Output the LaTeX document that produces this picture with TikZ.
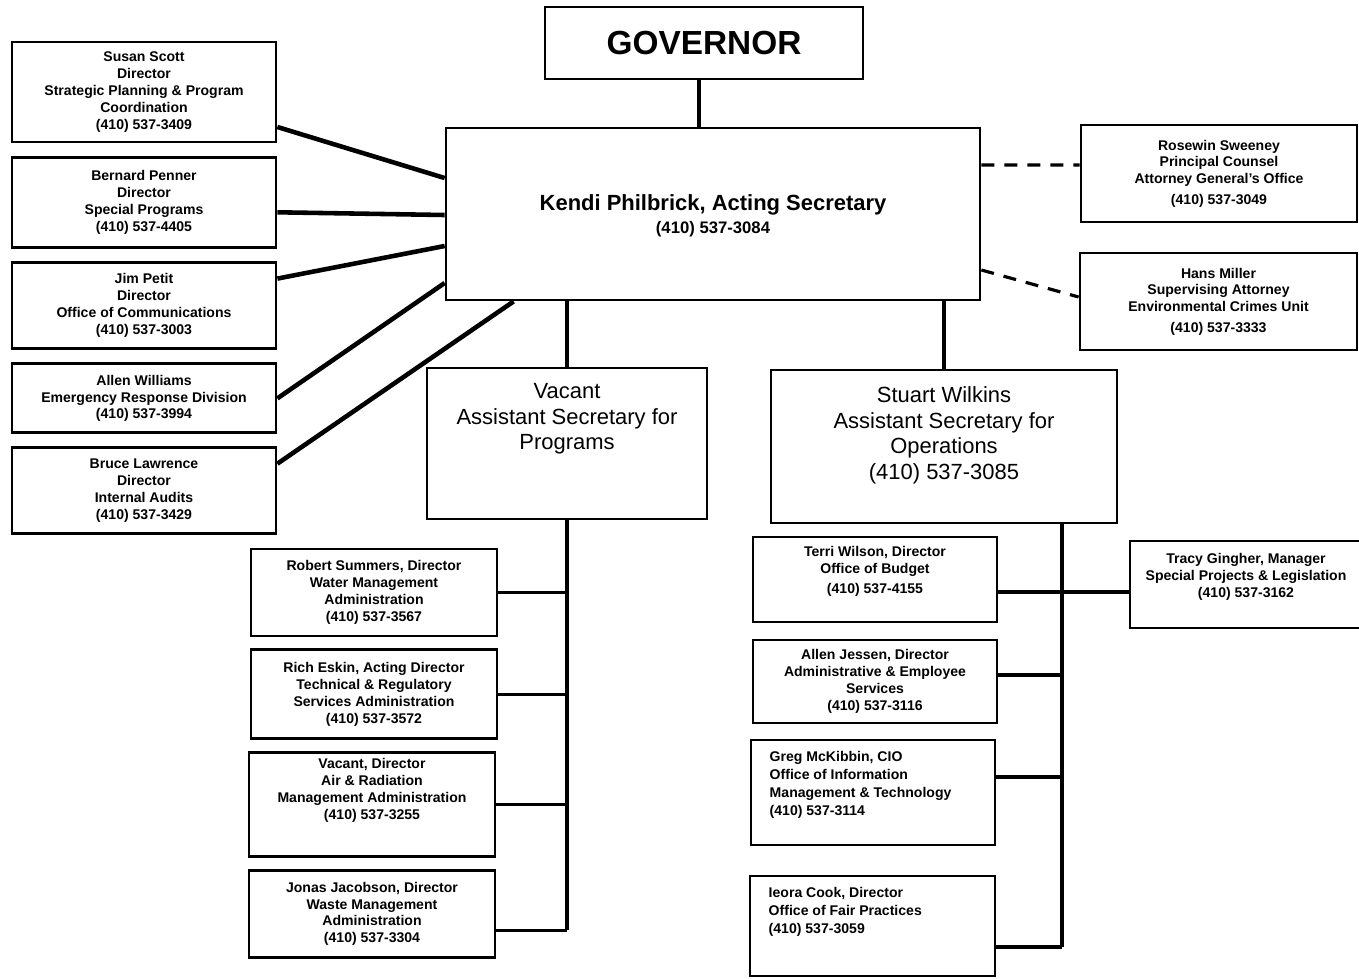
\documentclass[tikz,border=0pt]{standalone}
\usepackage{fontspec}
\setmainfont{Liberation Sans}
\usetikzlibrary{positioning}
\tikzset{
    unit/.style={rectangle, draw=black, line width=1.6pt, fill=white, align=center, minimum width=5.28cm, inner sep=2pt, font=\fontsize{8}{9.6}\selectfont\bfseries},
    asst/.style={rectangle, draw=black, line width=1.6pt, fill=white, font=\fontsize{12.5}{14.5}\selectfont},
    label/.style={align=center, inner sep=1pt, font=\fontsize{12.5}{14.5}\selectfont},
    note/.style={align=left, inner sep=1pt, font=\fontsize{8}{10.2}\selectfont\bfseries},
    link/.style={line width=1.8pt},
    spoke/.style={line width=2.6pt},
    dotlink/.style={line width=1.8pt, dash pattern=on 0.26cm off 0.2cm}
}

\begin{document}
\begin{tikzpicture}[x=0.02cm, y=-0.02cm]
    \useasboundingbox (0,0) rectangle (1359,978);

    % top of the chart
    \node (gov) [asst, minimum width=6.36cm, minimum height=1.44cm, font=\fontsize{19}{22}\selectfont\bfseries] at (704,43) {GOVERNOR};
    \node (sec) [asst, minimum width=10.68cm, minimum height=3.44cm] at (713,214) {};
    \node (sectext) [label, font=\fontsize{12.5}{13}\selectfont\bfseries] at ([yshift=-0.04cm]sec.center)
        {Kendi Philbrick, Acting Secretary\\{\fontsize{9.5}{10}\selectfont (410) 537-3084}};

    % staff offices on the left
    \node (susan) [unit, minimum height=2.0cm] at (144,92) {Susan Scott\\Director\\Strategic Planning \& Program\\Coordination\\(410) 537-3409};
    \node (bernard) [unit, minimum height=1.8cm, below=0.25cm of susan] {Bernard Penner\\Director\\Special Programs\\(410) 537-4405};
    \node (jim) [unit, minimum height=1.72cm, below=0.25cm of bernard] {Jim Petit\\Director\\Office of Communications\\(410) 537-3003};
    \node (allen) [unit, minimum height=1.38cm, below=0.25cm of jim] {Allen Williams\\Emergency Response Division\\(410) 537-3994};
    \node (bruce) [unit, minimum height=1.72cm, below=0.24cm of allen] {Bruce Lawrence\\Director\\Internal Audits\\(410) 537-3429};

    % counsel on the right
    \node (rosewin) [unit, minimum width=5.52cm, minimum height=1.94cm] at (1219,173.5) {Rosewin Sweeney\\Principal Counsel\\Attorney General's Office\\[2pt](410) 537-3049};
    \node (hans) [unit, minimum width=5.54cm, minimum height=1.94cm] at (1218.5,301.5) {Hans Miller\\Supervising Attorney\\Environmental Crimes Unit\\[2pt](410) 537-3333};

    % assistant secretaries
    \node (prog) [asst, minimum width=5.6cm, minimum height=3.02cm] at (567,443.5) {};
    \node (progtext) [label, anchor=north] at ([yshift=-0.3cm]prog.north) {Vacant\\Assistant Secretary for\\Programs};
    \node (ops) [asst, minimum width=6.92cm, minimum height=3.06cm] at (944,446.5) {};
    \node (opstext) [label, anchor=north] at ([yshift=-0.32cm]ops.north) {Stuart Wilkins\\Assistant Secretary for\\Operations\\(410) 537-3085};

    % programs administrations
    \node (summers) [unit, minimum width=4.92cm, minimum height=1.74cm] at (374,592.5) {Robert Summers, Director\\Water Management\\Administration\\(410) 537-3567};
    \node (eskin) [unit, minimum width=4.92cm, minimum height=1.78cm, below=0.22cm of summers] {Rich Eskin, Acting Director\\Technical \& Regulatory\\Services Administration\\(410) 537-3572};
    \node (air) [unit, minimum width=4.92cm, minimum height=2.08cm, below=0.22cm of eskin, xshift=-0.04cm] {Vacant, Director\\Air \& Radiation\\Management Administration\\(410) 537-3255\\[8pt]};
    \node (jonas) [unit, minimum width=4.92cm, minimum height=1.74cm, below=0.22cm of air] {Jonas Jacobson, Director\\Waste Management\\Administration\\(410) 537-3304};

    % operations offices
    \node (terri) [unit, minimum width=4.88cm, minimum height=1.7cm] at (875,579.5) {Terri Wilson, Director\\Office of Budget\\[2pt](410) 537-4155\\[1pt]};
    \node (jessen) [unit, minimum width=4.88cm, minimum height=1.66cm] at (875,681.5) {Allen Jessen, Director\\Administrative \& Employee\\Services\\(410) 537-3116};
    \node (greg) [unit, minimum width=4.88cm, minimum height=2.1cm] at (873,792.5) {};
    \node (gregtext) [note, anchor=north west] at ([xshift=0.36cm,yshift=-0.22cm]greg.north west) {Greg McKibbin, CIO\\Office of Information\\Management \& Technology\\(410) 537-3114};
    \node (ieora) [unit, minimum width=4.9cm, minimum height=2.0cm] at (872.5,926) {};
    \node (ieoratext) [note, anchor=north west] at ([xshift=0.36cm,yshift=-0.22cm]ieora.north west) {Ieora Cook, Director\\Office of Fair Practices\\(410) 537-3059};
    \node (tracy) [unit, minimum width=4.64cm, minimum height=1.74cm] at (1246,584.5) {Tracy Gingher, Manager\\Special Projects \& Legislation\\(410) 537-3162\\[1pt]};

    \coordinate (opsbus) at ([xshift=2.36cm]ops.south);

    \draw [link] ([xshift=-0.1cm]gov.south) -- ([xshift=-0.1cm]gov.south |- sec.north);

    \draw [spoke] ([yshift=-0.7cm]susan.east) -- ([yshift=0.72cm]sec.west);
    \draw [spoke] ([yshift=-0.2cm]bernard.east) -- ([yshift=-0.02cm]sec.west);
    \draw [spoke] ([yshift=0.54cm]jim.east) -- ([yshift=-0.64cm]sec.west);
    \draw [spoke] (allen.east) -- ([yshift=-1.38cm]sec.west);
    \draw [spoke] ([yshift=0.54cm]bruce.east) -- ([xshift=1.38cm]sec.south west);

    \draw [dotlink] ([yshift=0.98cm]sec.east) -- ([yshift=0.17cm]rosewin.west);
    \draw [dotlink] ([yshift=-1.12cm]sec.east) -- ([yshift=0.09cm]hans.west);

    \draw [link] (sec.south -| prog.north) -- (prog.north);
    \draw [link] (sec.south -| ops.north) -- (ops.north);

    \draw [link] (prog.south) -- ([yshift=-0.33cm]prog.south |- jonas.east);
    \foreach \n in {summers, eskin, air}
        \draw [link] (\n.east) -- (\n.east -| prog.south);
    \draw [link] ([yshift=-0.33cm]jonas.east) -- ([yshift=-0.33cm]jonas.east -| prog.south);

    \draw [link] (opsbus) -- ([yshift=-0.42cm]opsbus |- ieora.east);
    \draw [link] ([yshift=-0.25cm]terri.east) -- ([yshift=-0.25cm]terri.east -| tracy.west);
    \draw [link] ([yshift=0.13cm]jessen.east) -- ([yshift=0.13cm]jessen.east -| opsbus);
    \draw [link] ([yshift=0.31cm]greg.east) -- ([yshift=0.31cm]greg.east -| opsbus);
    \draw [link] ([yshift=-0.42cm]ieora.east) -- ([yshift=-0.42cm]ieora.east -| opsbus);
\end{tikzpicture}
\end{document}
